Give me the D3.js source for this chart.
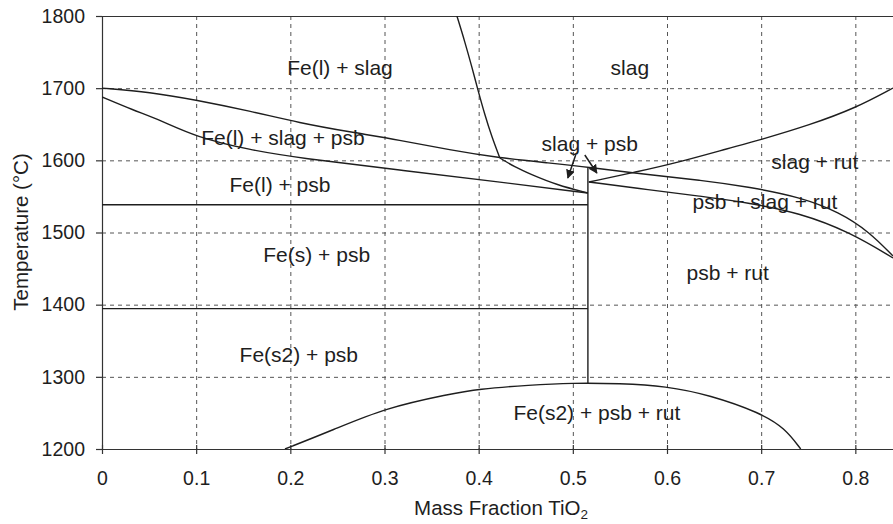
<!DOCTYPE html>
<html>
<head>
<meta charset="utf-8">
<script src="https://cdn.jsdelivr.net/npm/d3@7"></script>
<style>
  body { margin: 0; background: #fff; }
  text { font-family: "Liberation Sans", Arial, Helvetica, sans-serif; fill: #1e1e1e; }
</style>
</head>
<body>
<svg id="chart" width="893" height="524"></svg>
<script>
// axis ticks
const xTicks = [0, 0.1, 0.2, 0.3, 0.4, 0.5, 0.6, 0.7, 0.8];
const yTicks = [1200, 1300, 1400, 1500, 1600, 1700, 1800];

// phase boundaries, [mass fraction TiO2, temperature °C]
const upperLiquidus = [[0, 1700], [0.051, 1694.7], [0.0998, 1683.6], [0.157, 1668.4], [0.21, 1651.7],
  [0.263, 1639.3], [0.316, 1628.2], [0.369, 1614.3], [0.4225, 1603.2], [0.4756, 1596.3], [0.516, 1590.7],
  [0.582, 1579.6], [0.635, 1572.7], [0.688, 1563], [0.741, 1549.2], [0.783, 1528.4], [0.815, 1500.7], [0.84, 1467.4]];
const lowerLiquidus = [[0, 1687.8], [0.0329, 1669.7], [0.0616, 1655.9], [0.0998, 1632.3], [0.157, 1614.3],
  [0.21, 1603.2], [0.316, 1586.6], [0.4225, 1570], [0.516, 1554.7]];
const slagSteep = [[0.3769, 1800], [0.3854, 1764], [0.3928, 1729.3], [0.3992, 1697.5], [0.4066, 1662.8],
  [0.414, 1632.3], [0.4225, 1603.2]];
const slagShallow = [[0.4225, 1603.2], [0.4384, 1590.8], [0.4544, 1581.1], [0.483, 1565.8], [0.516, 1554.7]];
const rutileLiquidus = [[0.517, 1570], [0.567, 1583.8], [0.6136, 1597.7], [0.6667, 1617.1], [0.6985, 1628.2],
  [0.7516, 1649], [0.8004, 1672.5], [0.84, 1700.2]];
const psbSlagRutLower = [[0.517, 1570], [0.5817, 1558.9], [0.6348, 1550.6], [0.6879, 1540.9], [0.741, 1527],
  [0.794, 1500.7], [0.84, 1464.7]];
const ironMelt = [[0, 1538.5], [0.516, 1538.5]];
const ironTransition = [[0, 1394.5], [0.516, 1394.5]];
const psbComposition = [[0.516, 1590.7], [0.516, 1291]];
const rutileDome = [[0.1943, 1200], [0.2452, 1226.3], [0.3004, 1256.8], [0.3694, 1276.2], [0.399, 1283.1],
  [0.4544, 1288.7], [0.499, 1291.5], [0.55, 1290.8], [0.5987, 1287.3], [0.6454, 1274.8], [0.6996, 1249.9],
  [0.725, 1229], [0.742, 1200]];

// region names and where they sit
const regionNames = ['Fe(l) + slag', 'slag', 'Fe(l) + slag + psb', 'Fe(l) + psb', 'slag + psb', 'slag + rut',
  'psb + slag + rut', 'Fe(s) + psb', 'psb + rut', 'Fe(s2) + psb', 'Fe(s2) + psb + rut'];
const regionX = [0.2527, 0.5605, 0.1921, 0.189, 0.518, 0.757, 0.704, 0.228, 0.6645, 0.209, 0.5255];
const regionT = [1729, 1729, 1632, 1567, 1624, 1599, 1543.6, 1470, 1444, 1331.6, 1251];

// the two arrows under "slag + psb"
const arrowFrom = [[0.503, 1607.4], [0.5127, 1607.4]];
const arrowTo = [[0.4947, 1575.5], [0.5255, 1582.4]];

const X0 = 102, X1 = 893, Y0 = 449, Y1 = 16;
const xMax = 0.84;

const svg = d3.select('#chart');
const x = d3.scaleLinear().domain([0, xMax]).range([X0, X1]);
const y = d3.scaleLinear().domain([1200, 1800]).range([Y0, Y1]);

svg.append('defs').append('clipPath').attr('id', 'plot')
  .append('rect').attr('x', X0).attr('y', Y1).attr('width', X1 - X0).attr('height', Y0 - Y1);
svg.select('defs').append('marker')
  .attr('id', 'head').attr('viewBox', '0 0 10 10').attr('refX', 9).attr('refY', 5)
  .attr('markerWidth', 9).attr('markerHeight', 9).attr('markerUnits', 'userSpaceOnUse')
  .attr('orient', 'auto')
  .append('path').attr('d', 'M0,0L10,5L0,10Z').attr('fill', '#1e1e1e');

// dashed grid
const grid = svg.append('g').attr('stroke', '#555').attr('stroke-width', 1).attr('stroke-dasharray', '4,4');
grid.selectAll('.gy').data(yTicks.filter(d => d > 1200 && d < 1800)).enter().append('line')
  .attr('x1', X0).attr('x2', X1).attr('y1', d => y(d) + 0.5).attr('y2', d => y(d) + 0.5);
grid.selectAll('.gx').data(xTicks.filter(d => d > 0)).enter().append('line')
  .attr('x1', d => x(d) + 0.5).attr('x2', d => x(d) + 0.5).attr('y1', Y1).attr('y2', Y0);

// frame top
svg.append('line').attr('x1', X0).attr('x2', X1).attr('y1', y(1800) + 0.5).attr('y2', y(1800) + 0.5)
  .attr('stroke', '#333').attr('stroke-width', 1.2);

// axes
const yAxis = svg.append('g').attr('transform', `translate(${X0},0)`)
  .call(d3.axisLeft(y).tickValues(yTicks).tickSize(6).tickPadding(11).tickSizeOuter(0)
    .tickFormat(d3.format('d')));
const xAxis = svg.append('g').attr('transform', `translate(0,${Y0})`)
  .call(d3.axisBottom(x).tickValues(xTicks).tickSize(5).tickPadding(17).tickSizeOuter(0)
    .tickFormat(d => d === 0 ? '0' : d3.format('.1f')(d)));
xAxis.selectAll('.tick line').attr('y1', -4);
[xAxis, yAxis].forEach(a => {
  a.selectAll('path, line').attr('stroke', '#333').attr('stroke-width', 1.2);
  a.selectAll('text').attr('font-size', 19.5).attr('fill', '#1e1e1e')
    .attr('font-family', '"Liberation Sans", Arial, sans-serif');
});

// phase boundaries
const smooth = d3.line().x(d => x(d[0])).y(d => y(d[1])).curve(d3.curveBasis);
const straight = d3.line().x(d => x(d[0])).y(d => y(d[1]));
const curves = svg.append('g').attr('clip-path', 'url(#plot)')
  .attr('fill', 'none').attr('stroke', '#1e1e1e').attr('stroke-width', 1.4);
[upperLiquidus, lowerLiquidus, slagSteep, slagShallow, rutileLiquidus, psbSlagRutLower, rutileDome]
  .forEach(c => curves.append('path').attr('d', smooth(c)));
[ironMelt, ironTransition, psbComposition]
  .forEach(c => curves.append('path').attr('d', straight(c)));

// arrows
svg.append('g').selectAll('line').data(arrowFrom).enter().append('line')
  .attr('x1', d => x(d[0])).attr('y1', d => y(d[1]))
  .attr('x2', (d, i) => x(arrowTo[i][0])).attr('y2', (d, i) => y(arrowTo[i][1]))
  .attr('stroke', '#1e1e1e').attr('stroke-width', 1.5).attr('marker-end', 'url(#head)');

// region labels
svg.append('g').selectAll('text').data(regionNames).enter().append('text')
  .attr('x', (d, i) => x(regionX[i])).attr('y', (d, i) => y(regionT[i]))
  .attr('dy', '0.36em').attr('text-anchor', 'middle').attr('font-size', 21)
  .text(d => d);

// axis titles
svg.append('text').attr('transform', 'translate(21,232) rotate(-90)')
  .attr('text-anchor', 'middle').attr('dy', '0.35em').attr('font-size', 20.5).text('Temperature (°C)');
const xt = svg.append('text').attr('x', 501).attr('y', 515).attr('text-anchor', 'middle').attr('font-size', 20.5);
xt.append('tspan').text('Mass Fraction TiO');
xt.append('tspan').attr('font-size', 13.5).attr('dy', 4).text('2');
</script>
</body>
</html>
